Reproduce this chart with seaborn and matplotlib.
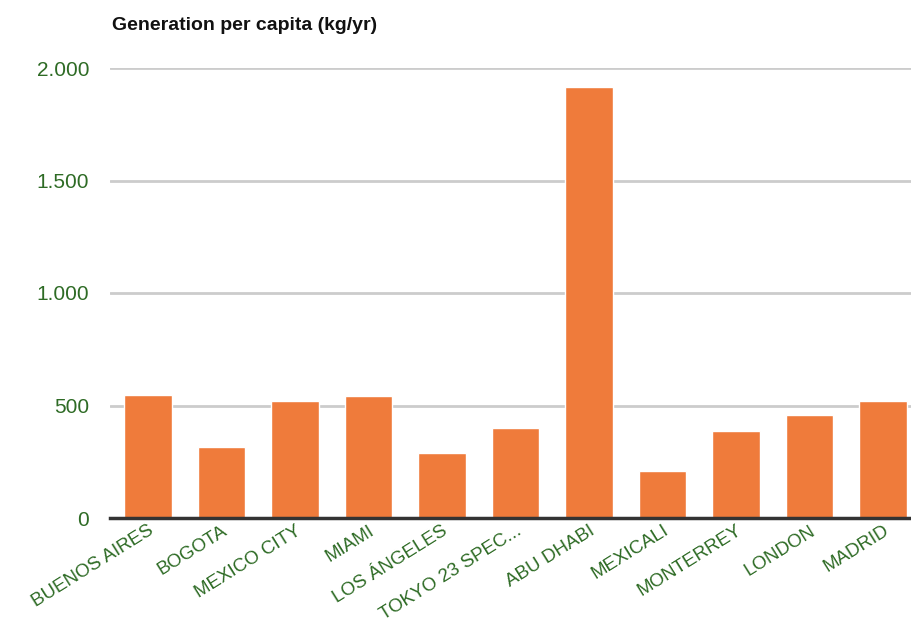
import matplotlib.pyplot as plt
import seaborn as sns
import pandas as pd
from matplotlib.ticker import FuncFormatter

# ====================================
# 데이터
# ====================================
cities = [
    "BUENOS AIRES", "BOGOTA", "MEXICO CITY", "MIAMI", "LOS ÁNGELES",
    "TOKYO 23 SPEC...", "ABU DHABI", "MEXICALI", "MONTERREY", "LONDON",
    "MADRID",
]
generation = [548, 315, 520, 542, 287, 400, 1917, 208, 386, 457, 520]
y_ticks = [0, 500, 1000, 1500, 2000]

BAR_COLOR = "#EF7B3B"
TEXT_GREEN = "#2E6B25"

sns.set_style("white")
plt.rcParams["font.family"] = ["Liberation Sans", "DejaVu Sans"]

df = pd.DataFrame({"city": cities, "value": generation})

fig = plt.figure(figsize=(9.12, 6.28), dpi=100)
ax = fig.add_axes([110 / 912, 1 - 518 / 628, 1 - 110 / 912, 450 / 628])

sns.barplot(
    data=df,
    x="city",
    y="value",
    color=BAR_COLOR,
    saturation=1,
    width=0.65,
    ax=ax
)

ax.set_xlim(-0.517, 10.395)
ax.set_ylim(0, 2000)
ax.set_yticks(y_ticks)
ax.yaxis.set_major_formatter(FuncFormatter(lambda v, p: f"{int(v):,}".replace(",", ".")))

ax.grid(axis="y", color="#cccccc", linewidth=2)
ax.set_axisbelow(True)

for side in ["top", "right", "left"]:
    ax.spines[side].set_visible(False)
ax.spines["bottom"].set_color("#333333")
ax.spines["bottom"].set_linewidth(2.5)

# 눈금선 없이 라벨만 표시
ax.tick_params(axis="both", length=0)
ax.tick_params(axis="y", colors=TEXT_GREEN, labelsize=15, pad=15)
ax.tick_params(axis="x", colors=TEXT_GREEN, labelsize=13.5, pad=3)
plt.setp(ax.get_xticklabels(), rotation=32, ha="right", rotation_mode="anchor")

ax.set_xlabel("")
ax.set_ylabel("")

fig.text(112 / 912, 1 - 25 / 628, "Generation per capita (kg/yr)",
         fontsize=14, fontweight="bold", color="#111111",
         va="center", ha="left")

plt.savefig("out.png", dpi=100)
